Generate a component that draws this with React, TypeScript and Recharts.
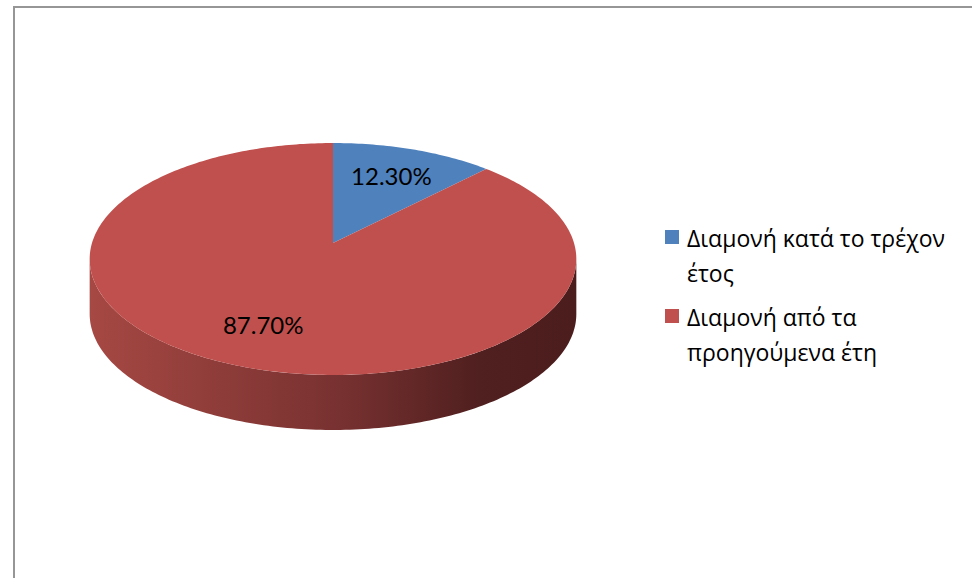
import { PieChart, Pie, Cell, Legend } from 'recharts';

const categories = ['Διαμονή κατά το τρέχον έτος', 'Διαμονή από τα προηγούμενα έτη'];
const shares = [12.3, 87.7];
const percentLabels = ['12.30%', '87.70%'];
const colors = ['#4f81bd', '#c0504d'];

const data = categories.map((name, i) => ({ name, value: shares[i], label: percentLabels[i] }));

// fake 3D: tilted disc seen in perspective, plus a front wall
const TILT = 0.472;
const PERSP = 0.138;
const DEPTH = 55;
const RAD = Math.PI / 180;

const project = (cx: number, cy: number, r: number, deg: number, f = 1) => {
  const X = Math.cos(deg * RAD) * f;
  const Z = Math.sin(deg * RAD) * f;
  const d = 1 + PERSP * Z;
  return [cx + (r * X) / d, cy - (r * TILT * Z) / d];
};

const arcPoints = (cx: number, cy: number, r: number, from: number, to: number) => {
  const n = Math.max(2, Math.ceil(Math.abs(to - from)));
  const pts: number[][] = [];
  for (let i = 0; i <= n; i++) pts.push(project(cx, cy, r, from + ((to - from) * i) / n));
  return pts;
};

const toPath = (pts: number[][]) =>
  pts.map((p, i) => `${i ? 'L' : 'M'}${p[0].toFixed(2)},${p[1].toFixed(2)}`).join('') + 'Z';

// part of the slice that lies on the visible front rim
const frontRange = (a: number, b: number) => {
  const lo = Math.min(a, b);
  const hi = Math.max(a, b);
  const s = Math.asin(PERSP) / RAD;
  for (const shift of [-720, -360, 0, 360]) {
    const f0 = 180 + s + shift;
    const f1 = 360 - s + shift;
    const x0 = Math.max(lo, f0);
    const x1 = Math.min(hi, f1);
    if (x1 > x0) return [x0, x1];
  }
  return null;
};

const Slice3D = (props: any) => {
  const { cx, cy, outerRadius, startAngle, endAngle, fill } = props;
  const top = [[cx, cy], ...arcPoints(cx, cy, outerRadius, startAngle, endAngle)];
  const fr = frontRange(startAngle, endAngle);
  let side = null;
  if (fr) {
    const upper = arcPoints(cx, cy, outerRadius, fr[0], fr[1]);
    const lower = upper.map((p) => [p[0], p[1] + DEPTH]).reverse();
    side = <path d={toPath([...upper, ...lower])} fill="url(#wallShade)" />;
  }
  return (
    <g>
      {side}
      <path d={toPath(top)} fill={fill} />
    </g>
  );
};

const renderLabel = (props: any) => {
  const { cx, cy, outerRadius, midAngle, index } = props;
  const [x, y] = project(cx, cy, outerRadius, midAngle, 0.7);
  return (
    <text x={x} y={y} textAnchor="middle" dominantBaseline="central" fill="#000" fontSize={24} fontFamily="Lato">
      {data[index].label}
    </text>
  );
};

const renderLegend = (props: any) => {
  const items = [...props.payload].sort(
    (a: any, b: any) => categories.indexOf(a.value) - categories.indexOf(b.value)
  );
  return (
    <div style={{ fontFamily: '"Open Sans"', fontSize: 23, color: '#000' }}>
      {items.map((entry: any, i: number) => (
        <div key={i} style={{ display: 'flex', alignItems: 'flex-start', marginBottom: 9 }}>
          <span style={{ width: 14, height: 14, background: entry.color, marginTop: 9, marginRight: 8, flex: 'none' }} />
          <span style={{ lineHeight: '35px', width: 280 }}>{entry.value}</span>
        </div>
      ))}
    </div>
  );
};

export default function App() {
  return (
    <div style={{ position: 'absolute', left: 0, top: 0, width: 972, height: 578, background: '#fff', overflow: 'hidden' }}>
      <div style={{ position: 'absolute', left: 13, top: 6, width: 980, height: 600, borderLeft: '2px solid #969696', borderTop: '2px solid #969696' }} />
      <PieChart width={972} height={578} margin={{ top: 0, right: 0, bottom: 0, left: 0 }} style={{ position: 'absolute', left: 0, top: 0 }}>
        <defs>
          <linearGradient id="wallShade" gradientUnits="userSpaceOnUse" x1={90} y1={0} x2={577} y2={0}>
            <stop offset="0%" stopColor="#a64843" />
            <stop offset="50%" stopColor="#793231" />
            <stop offset="80%" stopColor="#501f1f" />
            <stop offset="100%" stopColor="#4c1d1d" />
          </linearGradient>
        </defs>
        <Pie
          data={data}
          dataKey="value"
          nameKey="name"
          cx={333}
          cy={243}
          outerRadius={241}
          startAngle={90}
          endAngle={-270}
          stroke="none"
          shape={Slice3D}
          label={renderLabel}
          labelLine={false}
          isAnimationActive={false}
        >
          {data.map((d, i) => (
            <Cell key={d.name} fill={colors[i]} />
          ))}
        </Pie>
        <Legend
          layout="vertical"
          align="right"
          verticalAlign="top"
          content={renderLegend}
          wrapperStyle={{ left: 665, top: 221, width: 305 }}
        />
      </PieChart>
    </div>
  );
}
